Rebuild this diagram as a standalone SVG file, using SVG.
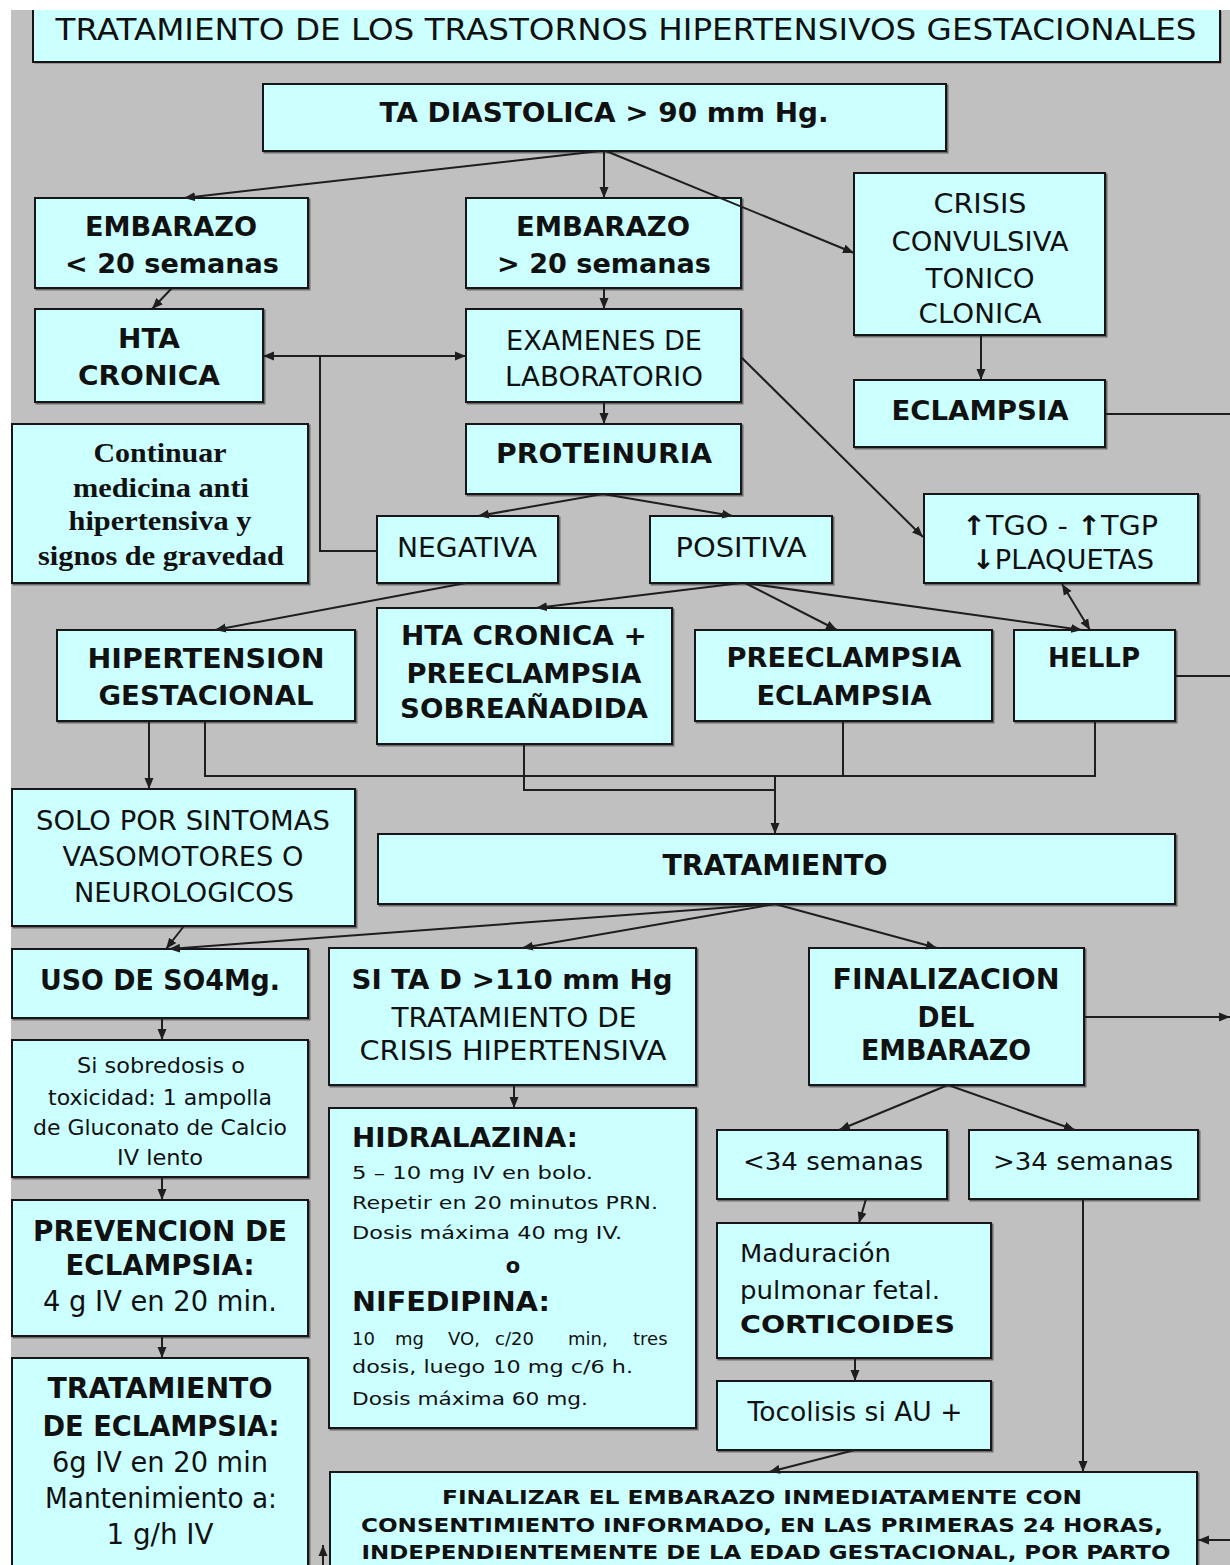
<svg xmlns="http://www.w3.org/2000/svg" width="1230" height="1565" viewBox="0 0 1230 1565">
<style>
.box{fill:#ccffff;stroke:#151515;stroke-width:2}
.t{font-family:"DejaVu Sans",Verdana,sans-serif;fill:#111;text-anchor:middle}
.l{text-anchor:start}
.b{font-weight:bold}
.s{font-family:"Liberation Serif","Times New Roman",serif;font-weight:bold}
.ln{stroke:#1e1e1e;stroke-width:2;fill:none}
.ar{marker-end:url(#ah)}
.da{marker-end:url(#ah);marker-start:url(#ah)}
</style>
<defs>
<marker id="ah" markerUnits="userSpaceOnUse" markerWidth="12" markerHeight="10" refX="11" refY="5" orient="auto-start-reverse">
<path d="M0,0.5 L11,5 L0,9.5 z" fill="#1e1e1e"/>
</marker>
<filter id="sh" x="-5%" y="-5%" width="110%" height="110%">
<feDropShadow dx="1.5" dy="1.5" stdDeviation="0.6" flood-color="#555" flood-opacity="0.8"/>
</filter>
</defs>
<rect x="0" y="0" width="1230" height="1565" fill="#ffffff"/>
<rect x="11" y="10" width="1219" height="1555" fill="#c0c0c0"/>

<g id="title">
<rect x="33" y="10" width="1187" height="52" fill="#ccffff" filter="url(#sh)"/>
<path d="M33,10 V62 H1220 V10" fill="none" stroke="#151515" stroke-width="2"/>
<text class="t" x="626" y="40" font-size="31" textLength="1141" lengthAdjust="spacingAndGlyphs">TRATAMIENTO DE LOS TRASTORNOS HIPERTENSIVOS GESTACIONALES</text>
</g>

<g id="ta-diastolica">
<rect class="box" x="263" y="84" width="683" height="67" filter="url(#sh)"/>
<text class="t b" x="604" y="122" font-size="27" textLength="449" lengthAdjust="spacingAndGlyphs">TA DIASTOLICA &gt; 90 mm Hg.</text>
</g>

<g id="embarazo-menor-20">
<rect class="box" x="35" y="198" width="273" height="90" filter="url(#sh)"/>
<text class="t b" x="171" y="236" font-size="26" textLength="172" lengthAdjust="spacingAndGlyphs">EMBARAZO</text>
<text class="t b" x="172" y="273" font-size="26" textLength="214" lengthAdjust="spacingAndGlyphs">&lt; 20 semanas</text>
</g>

<g id="embarazo-mayor-20">
<rect class="box" x="466" y="198" width="275" height="90" filter="url(#sh)"/>
<text class="t b" x="603" y="236" font-size="26" textLength="174" lengthAdjust="spacingAndGlyphs">EMBARAZO</text>
<text class="t b" x="604" y="273" font-size="26" textLength="214" lengthAdjust="spacingAndGlyphs">&gt; 20 semanas</text>
</g>

<g id="crisis">
<rect class="box" x="854" y="173" width="251" height="162" filter="url(#sh)"/>
<text class="t" x="980" y="213" font-size="27" textLength="93" lengthAdjust="spacingAndGlyphs">CRISIS</text>
<text class="t" x="980" y="251" font-size="27" textLength="177" lengthAdjust="spacingAndGlyphs">CONVULSIVA</text>
<text class="t" x="980" y="288" font-size="27" textLength="109" lengthAdjust="spacingAndGlyphs">TONICO</text>
<text class="t" x="980" y="323" font-size="27" textLength="123" lengthAdjust="spacingAndGlyphs">CLONICA</text>
</g>

<g id="hta-cronica">
<rect class="box" x="35" y="309" width="228" height="93" filter="url(#sh)"/>
<text class="t b" x="149" y="348" font-size="26" textLength="62" lengthAdjust="spacingAndGlyphs">HTA</text>
<text class="t b" x="149" y="385" font-size="26" textLength="142" lengthAdjust="spacingAndGlyphs">CRONICA</text>
</g>

<g id="examenes">
<rect class="box" x="466" y="309" width="275" height="93" filter="url(#sh)"/>
<text class="t" x="604" y="350" font-size="27" textLength="196" lengthAdjust="spacingAndGlyphs">EXAMENES DE</text>
<text class="t" x="604" y="386" font-size="27" textLength="198" lengthAdjust="spacingAndGlyphs">LABORATORIO</text>
</g>

<g id="eclampsia">
<rect class="box" x="854" y="380" width="251" height="67" filter="url(#sh)"/>
<text class="t b" x="980" y="420" font-size="27" textLength="177" lengthAdjust="spacingAndGlyphs">ECLAMPSIA</text>
</g>

<g id="continuar">
<rect class="box" x="12" y="424" width="296" height="159" filter="url(#sh)"/>
<text class="t s" x="160" y="462" font-size="28" textLength="133" lengthAdjust="spacingAndGlyphs">Continuar</text>
<text class="t s" x="161" y="497" font-size="28" textLength="176" lengthAdjust="spacingAndGlyphs">medicina anti</text>
<text class="t s" x="160" y="530" font-size="28" textLength="183" lengthAdjust="spacingAndGlyphs">hipertensiva y</text>
<text class="t s" x="161" y="565" font-size="28" textLength="246" lengthAdjust="spacingAndGlyphs">signos de gravedad</text>
</g>

<g id="proteinuria">
<rect class="box" x="466" y="424" width="275" height="70" filter="url(#sh)"/>
<text class="t b" x="604" y="463" font-size="27" textLength="216" lengthAdjust="spacingAndGlyphs">PROTEINURIA</text>
</g>

<g id="negativa">
<rect class="box" x="377" y="516" width="181" height="67" filter="url(#sh)"/>
<text class="t" x="467" y="557" font-size="27" textLength="140" lengthAdjust="spacingAndGlyphs">NEGATIVA</text>
</g>

<g id="positiva">
<rect class="box" x="650" y="516" width="182" height="67" filter="url(#sh)"/>
<text class="t" x="741" y="557" font-size="27" textLength="131" lengthAdjust="spacingAndGlyphs">POSITIVA</text>
</g>

<g id="tgo-tgp">
<rect class="box" x="924" y="494" width="274" height="89" filter="url(#sh)"/>
<text class="t" x="1060" y="535" font-size="27" textLength="196" lengthAdjust="spacingAndGlyphs"><tspan class="b">↑</tspan>TGO - <tspan class="b">↑</tspan>TGP</text>
<text class="t" x="1063" y="569" font-size="27" textLength="182" lengthAdjust="spacingAndGlyphs"><tspan class="b">↓</tspan>PLAQUETAS</text>
</g>

<g id="hipertension-gestacional">
<rect class="box" x="57" y="630" width="298" height="91" filter="url(#sh)"/>
<text class="t b" x="206" y="668" font-size="27" textLength="237" lengthAdjust="spacingAndGlyphs">HIPERTENSION</text>
<text class="t b" x="206" y="705" font-size="27" textLength="215" lengthAdjust="spacingAndGlyphs">GESTACIONAL</text>
</g>

<g id="hta-preeclampsia">
<rect class="box" x="377" y="608" width="295" height="136" filter="url(#sh)"/>
<text class="t b" x="524" y="645" font-size="27" textLength="246" lengthAdjust="spacingAndGlyphs">HTA CRONICA +</text>
<text class="t b" x="524" y="683" font-size="27" textLength="235" lengthAdjust="spacingAndGlyphs">PREECLAMPSIA</text>
<text class="t b" x="524" y="718" font-size="27" textLength="248" lengthAdjust="spacingAndGlyphs">SOBREAÑADIDA</text>
</g>

<g id="preeclampsia-eclampsia">
<rect class="box" x="695" y="630" width="297" height="91" filter="url(#sh)"/>
<text class="t b" x="844" y="667" font-size="27" textLength="235" lengthAdjust="spacingAndGlyphs">PREECLAMPSIA</text>
<text class="t b" x="844" y="705" font-size="27" textLength="175" lengthAdjust="spacingAndGlyphs">ECLAMPSIA</text>
</g>

<g id="hellp">
<rect class="box" x="1014" y="630" width="161" height="91" filter="url(#sh)"/>
<text class="t b" x="1094" y="667" font-size="27" textLength="92" lengthAdjust="spacingAndGlyphs">HELLP</text>
</g>

<g id="solo-sintomas">
<rect class="box" x="12" y="789" width="343" height="137" filter="url(#sh)"/>
<text class="t" x="183" y="830" font-size="26" textLength="294" lengthAdjust="spacingAndGlyphs">SOLO POR SINTOMAS</text>
<text class="t" x="183" y="866" font-size="26" textLength="241" lengthAdjust="spacingAndGlyphs">VASOMOTORES O</text>
<text class="t" x="184" y="902" font-size="26" textLength="220" lengthAdjust="spacingAndGlyphs">NEUROLOGICOS</text>
</g>

<g id="tratamiento">
<rect class="box" x="378" y="834" width="797" height="70" filter="url(#sh)"/>
<text class="t b" x="775" y="875" font-size="29" textLength="225" lengthAdjust="spacingAndGlyphs">TRATAMIENTO</text>
</g>

<g id="uso-so4mg">
<rect class="box" x="12" y="949" width="296" height="69" filter="url(#sh)"/>
<text class="t b" x="160" y="990" font-size="29" textLength="240" lengthAdjust="spacingAndGlyphs">USO DE SO4Mg.</text>
</g>

<g id="sobredosis">
<rect class="box" x="12" y="1040" width="296" height="137" filter="url(#sh)"/>
<text class="t" x="161" y="1073" font-size="22" textLength="168" lengthAdjust="spacingAndGlyphs">Si sobredosis o</text>
<text class="t" x="160" y="1105" font-size="22" textLength="224" lengthAdjust="spacingAndGlyphs">toxicidad: 1 ampolla</text>
<text class="t" x="160" y="1135" font-size="22" textLength="254" lengthAdjust="spacingAndGlyphs">de Gluconato de Calcio</text>
<text class="t" x="160" y="1165" font-size="22" textLength="86" lengthAdjust="spacingAndGlyphs">IV lento</text>
</g>

<g id="prevencion">
<rect class="box" x="12" y="1200" width="296" height="136" filter="url(#sh)"/>
<text class="t b" x="160" y="1241" font-size="28" textLength="254" lengthAdjust="spacingAndGlyphs">PREVENCION DE</text>
<text class="t b" x="160" y="1275" font-size="28" textLength="189" lengthAdjust="spacingAndGlyphs">ECLAMPSIA:</text>
<text class="t" x="160" y="1311" font-size="28" textLength="234" lengthAdjust="spacingAndGlyphs">4 g IV en 20 min.</text>
</g>

<g id="tratamiento-eclampsia">
<rect class="box" x="12" y="1358" width="296" height="215" filter="url(#sh)"/>
<text class="t b" x="160" y="1398" font-size="28" textLength="225" lengthAdjust="spacingAndGlyphs">TRATAMIENTO</text>
<text class="t b" x="161" y="1436" font-size="28" textLength="237" lengthAdjust="spacingAndGlyphs">DE ECLAMPSIA:</text>
<text class="t" x="160" y="1472" font-size="28" textLength="216" lengthAdjust="spacingAndGlyphs">6g IV en 20 min</text>
<text class="t" x="161" y="1508" font-size="28" textLength="232" lengthAdjust="spacingAndGlyphs">Mantenimiento a:</text>
<text class="t" x="160" y="1544" font-size="28" textLength="107" lengthAdjust="spacingAndGlyphs">1 g/h IV</text>
</g>

<g id="si-ta-d">
<rect class="box" x="329" y="948" width="367" height="137" filter="url(#sh)"/>
<text class="t b" x="512" y="989" font-size="27" textLength="321" lengthAdjust="spacingAndGlyphs">SI TA D &gt;110 mm Hg</text>
<text class="t" x="514" y="1027" font-size="26" textLength="245" lengthAdjust="spacingAndGlyphs">TRATAMIENTO DE</text>
<text class="t" x="513" y="1060" font-size="26" textLength="307" lengthAdjust="spacingAndGlyphs">CRISIS HIPERTENSIVA</text>
</g>

<g id="hidralazina">
<rect class="box" x="329" y="1108" width="367" height="320" filter="url(#sh)"/>
<text class="t l b" x="352" y="1147" font-size="27" textLength="226" lengthAdjust="spacingAndGlyphs">HIDRALAZINA:</text>
<text class="t l" x="352" y="1179" font-size="18" textLength="241" lengthAdjust="spacingAndGlyphs">5 – 10 mg IV en bolo.</text>
<text class="t l" x="352" y="1209" font-size="18" textLength="306" lengthAdjust="spacingAndGlyphs">Repetir en 20 minutos PRN.</text>
<text class="t l" x="352" y="1239" font-size="18" textLength="270" lengthAdjust="spacingAndGlyphs">Dosis máxima 40 mg IV.</text>
<text class="t b" x="513" y="1273" font-size="21">o</text>
<text class="t l b" x="352" y="1311" font-size="27" textLength="198" lengthAdjust="spacingAndGlyphs">NIFEDIPINA:</text>
<text class="t l" y="1345" font-size="18"><tspan x="352">10</tspan><tspan x="395">mg</tspan><tspan x="448">VO,</tspan><tspan x="495">c/20</tspan><tspan x="568">min,</tspan><tspan x="633">tres</tspan></text>
<text class="t l" x="352" y="1373" font-size="18" textLength="281" lengthAdjust="spacingAndGlyphs">dosis, luego 10 mg c/6 h.</text>
<text class="t l" x="352" y="1405" font-size="18" textLength="236" lengthAdjust="spacingAndGlyphs">Dosis máxima 60 mg.</text>
</g>

<g id="finalizacion">
<rect class="box" x="809" y="948" width="275" height="137" filter="url(#sh)"/>
<text class="t b" x="946" y="989" font-size="28" textLength="227" lengthAdjust="spacingAndGlyphs">FINALIZACION</text>
<text class="t b" x="946" y="1027" font-size="28" textLength="57" lengthAdjust="spacingAndGlyphs">DEL</text>
<text class="t b" x="946" y="1060" font-size="28" textLength="170" lengthAdjust="spacingAndGlyphs">EMBARAZO</text>
</g>

<g id="menor-34">
<rect class="box" x="717" y="1130" width="230" height="69" filter="url(#sh)"/>
<text class="t" x="833" y="1170" font-size="25" textLength="180" lengthAdjust="spacingAndGlyphs">&lt;34 semanas</text>
</g>

<g id="mayor-34">
<rect class="box" x="969" y="1130" width="229" height="69" filter="url(#sh)"/>
<text class="t" x="1083" y="1170" font-size="25" textLength="180" lengthAdjust="spacingAndGlyphs">&gt;34 semanas</text>
</g>

<g id="maduracion">
<rect class="box" x="717" y="1223" width="274" height="135" filter="url(#sh)"/>
<text class="t l" x="740" y="1262" font-size="25" textLength="151" lengthAdjust="spacingAndGlyphs">Maduración</text>
<text class="t l" x="740" y="1299" font-size="25" textLength="200" lengthAdjust="spacingAndGlyphs">pulmonar fetal.</text>
<text class="t l b" x="740" y="1333" font-size="25" textLength="215" lengthAdjust="spacingAndGlyphs">CORTICOIDES</text>
</g>

<g id="tocolisis">
<rect class="box" x="717" y="1381" width="274" height="69" filter="url(#sh)"/>
<text class="t" x="855" y="1421" font-size="27" textLength="215" lengthAdjust="spacingAndGlyphs">Tocolisis si AU +</text>
</g>

<g id="finalizar">
<rect class="box" x="330" y="1472" width="867" height="110" filter="url(#sh)"/>
<text class="t b" x="762" y="1504" font-size="19" textLength="640" lengthAdjust="spacingAndGlyphs">FINALIZAR EL EMBARAZO INMEDIATAMENTE CON</text>
<text class="t b" x="762" y="1532" font-size="19" textLength="802" lengthAdjust="spacingAndGlyphs">CONSENTIMIENTO INFORMADO, EN LAS PRIMERAS 24 HORAS,</text>
<text class="t b" x="766" y="1559" font-size="19" textLength="809" lengthAdjust="spacingAndGlyphs">INDEPENDIENTEMENTE DE LA EDAD GESTACIONAL, POR PARTO</text>
</g>

<g id="connectors">
<line class="ln ar" x1="600" y1="151" x2="184" y2="198"/>
<line class="ln ar" x1="604" y1="151" x2="604" y2="198"/>
<line class="ln ar" x1="606" y1="151" x2="854" y2="253"/>
<line class="ln ar" x1="172" y1="288" x2="152" y2="309"/>
<line class="ln ar" x1="604" y1="288" x2="604" y2="309"/>
<line class="ln da" x1="263" y1="356" x2="466" y2="356"/>
<polyline class="ln" points="377,551 320,551 320,356"/>
<line class="ln ar" x1="981" y1="335" x2="981" y2="380"/>
<line class="ln" x1="1105" y1="414" x2="1230" y2="414"/>
<line class="ln ar" x1="741" y1="357" x2="923" y2="537"/>
<line class="ln ar" x1="604" y1="402" x2="604" y2="424"/>
<line class="ln ar" x1="603" y1="494" x2="478" y2="516"/>
<line class="ln ar" x1="603" y1="494" x2="733" y2="516"/>
<line class="ln ar" x1="466" y1="583" x2="215" y2="630"/>
<line class="ln ar" x1="741" y1="583" x2="536" y2="608"/>
<line class="ln ar" x1="745" y1="583" x2="837" y2="630"/>
<line class="ln ar" x1="745" y1="583" x2="1082" y2="630"/>
<line class="ln da" x1="1062" y1="584" x2="1090" y2="630"/>
<line class="ln" x1="1175" y1="676" x2="1230" y2="676"/>
<line class="ln ar" x1="149" y1="721" x2="149" y2="789"/>
<polyline class="ln" points="205,721 205,776 1095,776 1095,721"/>
<line class="ln" x1="843" y1="721" x2="843" y2="776"/>
<polyline class="ln" points="524,744 524,790 775,790"/>
<line class="ln ar" x1="775" y1="776" x2="775" y2="834"/>
<line class="ln ar" x1="184" y1="926" x2="166" y2="949"/>
<line class="ln ar" x1="775" y1="904" x2="169" y2="949"/>
<line class="ln ar" x1="775" y1="904" x2="522" y2="948"/>
<line class="ln ar" x1="775" y1="904" x2="937" y2="948"/>
<line class="ln ar" x1="162" y1="1018" x2="162" y2="1040"/>
<line class="ln ar" x1="162" y1="1177" x2="162" y2="1200"/>
<line class="ln ar" x1="162" y1="1336" x2="162" y2="1358"/>
<line class="ln ar" x1="514" y1="1085" x2="514" y2="1108"/>
<line class="ln ar" x1="948" y1="1085" x2="839" y2="1130"/>
<line class="ln ar" x1="948" y1="1085" x2="1075" y2="1130"/>
<line class="ln ar" x1="1084" y1="1017" x2="1230" y2="1017"/>
<line class="ln ar" x1="866" y1="1199" x2="859" y2="1223"/>
<line class="ln ar" x1="855" y1="1358" x2="855" y2="1381"/>
<line class="ln ar" x1="855" y1="1450" x2="769" y2="1472"/>
<line class="ln ar" x1="1083" y1="1199" x2="1083" y2="1472"/>
<line class="ln ar" x1="1232" y1="1540" x2="1198" y2="1540"/>
<line class="ln ar" x1="323" y1="1572" x2="323" y2="1545"/>
</g>
</svg>
